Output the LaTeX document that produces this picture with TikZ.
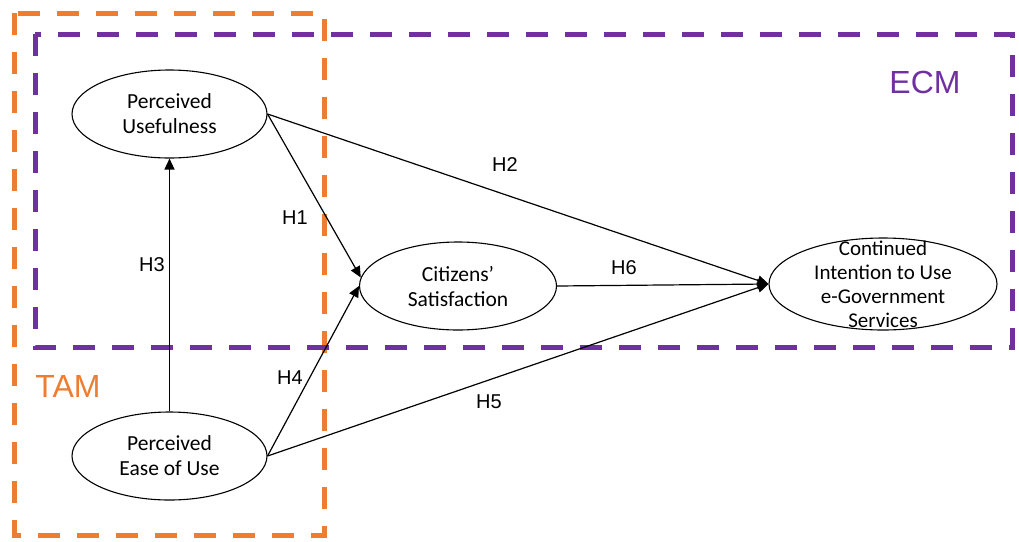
\documentclass[tikz,border=0pt]{standalone}
\usepackage{fontspec}
\setmainfont{Carlito}
\newfontfamily\arialfont{Liberation Sans}
\usetikzlibrary{arrows.meta,shapes.geometric}
\definecolor{tamorange}{HTML}{ED7D31}
\definecolor{ecmpurple}{HTML}{7030A0}
\tikzset{
  construct/.style={ellipse, draw, line width=1.1pt, inner sep=0pt,
    minimum width=195pt, minimum height=88pt},
  ctext/.style={align=center, font=\fontsize{21.5}{25}\selectfont},
  path/.style={line width=1.2pt, -{Triangle[length=11pt,width=10pt]}},
  hyp/.style={font=\arialfont\fontsize{20}{22}\selectfont, inner sep=0pt},
  frame/.style={line width=5pt, dash pattern=on 22pt off 17pt},
  modellabel/.style={font=\arialfont\fontsize{32}{36}\selectfont, inner sep=0pt}
}
\begin{document}
\begin{tikzpicture}[x=1pt,y=-1pt]
\useasboundingbox (0,0) rectangle (1019,541);

% model frames
\draw[frame, tamorange] (14,13) rectangle (324,535);
\draw[frame, ecmpurple] (35,34) rectangle (1012,347);
\node[modellabel, text=tamorange] (tam) at (68,386) {TAM};
\node[modellabel, text=ecmpurple] (ecm) at (925,82) {ECM};

% constructs
\node[construct, label={[ctext]center:Perceived\\Usefulness}] (pu) at (169.5,114) {};
\node[construct, label={[ctext]center:Perceived\\Ease of Use}] (peu) at (169.5,456) {};
\node[construct, minimum width=197pt, label={[ctext]center:Citizens'\\Satisfaction}] (cs) at (458,286) {};
\node[construct, minimum width=228pt, minimum height=92pt,
  label={[ctext, font=\fontsize{21}{24}\selectfont]center:Continued\\Intention to Use\\e-Government\\Services}] (ci) at (883,284) {};

% hypothesised paths
\draw[path] (peu.north) -- (pu.south);
\draw[path] (pu.east) -- (cs.175);
\draw[path] (peu.east) -- (cs.west);
\draw[path] (pu.east) -- (ci.west);
\draw[path] (peu.east) -- (ci.west);
\draw[path] (cs.east) -- (ci.west);

% path labels
\node[hyp] (h1) at (295,218) {H1};
\node[hyp] (h2) at (505,165) {H2};
\node[hyp] (h3) at (152,265) {H3};
\node[hyp] (h4) at (290,378) {H4};
\node[hyp] (h5) at (489,402) {H5};
\node[hyp] (h6) at (624,268) {H6};
\end{tikzpicture}
\end{document}
